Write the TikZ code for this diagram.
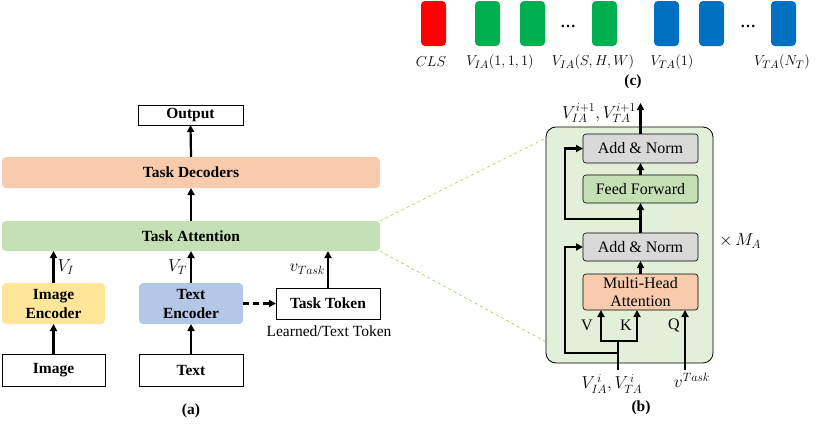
\documentclass[tikz,border=0pt]{standalone}
\usepackage{fontspec}
\setmainfont{Liberation Serif}
\usetikzlibrary{arrows.meta}
\definecolor{attgreen}{HTML}{C5E0B4}
\definecolor{decorange}{HTML}{F8CBAD}
\definecolor{encyellow}{HTML}{FFE699}
\definecolor{encblue}{HTML}{B4C7E7}
\definecolor{outergreen}{HTML}{E2F0D9}
\definecolor{normgray}{HTML}{D9D9D9}
\definecolor{linegreen}{HTML}{92D050}
\definecolor{tokred}{HTML}{FF0000}
\definecolor{tokgreen}{HTML}{00B050}
\definecolor{tokblue}{HTML}{0070C0}
\tikzset{
  base/.style={font=\fontsize{15.5}{19}\selectfont, inner sep=0pt, outer sep=0pt, align=center},
  whitebox/.style={base, draw=black, line width=0.8pt, fill=white, font=\fontsize{15.5}{19}\selectfont\bfseries},
  bar/.style={base, rounded corners=4pt, font=\fontsize{15.5}{19}\selectfont\bfseries},
  inbox/.style={base, draw=black, line width=0.6pt, rounded corners=3pt, minimum width=115pt, font=\fontsize{16}{18}\selectfont},
  tokbox/.style={rounded corners=4pt, minimum width=25pt, minimum height=45pt, inner sep=0pt},
  arr/.style={line width=2.2pt, -{Triangle[length=7pt,width=7pt]}},
  ln/.style={line width=2.2pt},
  gl/.style={linegreen, dashed, line width=0.6pt},
  lab/.style={base},
  mlab/.style={base, font=\fontsize{16.5}{19}\selectfont},
  caplab/.style={base, font=\fontsize{15.5}{19}\selectfont\bfseries}
}
\begin{document}
\begin{tikzpicture}[x=1pt,y=-1pt]
\useasboundingbox (0,0) rectangle (830,429);

% ---------- panel (a) ----------
\node[whitebox, minimum width=105pt, minimum height=20pt] (out) at (190.5,115) {Output};
\node[bar, fill=decorange, minimum width=378pt, minimum height=31pt] (dec) at (191,172.5) {Task Decoders};
\node[bar, fill=attgreen, minimum width=378pt, minimum height=30pt] (att) at (191,236) {Task Attention};
\node[bar, fill=encyellow, minimum width=103pt, minimum height=41pt] (ienc) at (53.5,303.5) {Image\\Encoder};
\node[bar, fill=encblue, minimum width=104pt, minimum height=41pt] (tenc) at (191,303.5) {Text\\Encoder};
\node[whitebox, minimum width=104pt, minimum height=31pt] (tok) at (328,303.5) {Task Token};
\node[whitebox, minimum width=103pt, minimum height=32pt] (img) at (53.5,370) {Image};
\node[whitebox, minimum width=104pt, minimum height=32pt] (txt) at (191,370) {Text};
\node[lab, anchor=north] (ltok) at (329,326) {Learned/Text Token};

\draw[arr] (img.north) -- (ienc.south);
\draw[arr] (txt.north) -- (tenc.south);
\draw[arr] (ienc.north) -- (ienc.north |- att.south) node[mlab, midway, right=4pt] {$V_I$};
\draw[arr] (tenc.north) -- (tenc.north |- att.south) node[mlab, midway, left=4pt] {$V_T$};
\draw[arr] (tok.north) -- (tok.north |- att.south) node[mlab, midway, left=3pt] {$v_{Task}$};
\draw[arr] (att.north) -- (dec.south);
\draw[arr] (dec.north) -- (out.south);
\draw[line width=2.2pt, dashed, dash pattern=on 6pt off 4pt, -{Triangle[length=7pt,width=7pt]}] (tenc.east) -- (tok.west);
\node[caplab] (capa) at (191,411) {(a)};

% ---------- panel (b) ----------
\node[draw=black, line width=0.8pt, fill=outergreen, rounded corners=10pt, minimum width=167pt, minimum height=236pt, inner sep=0pt] (outer) at (629.5,245) {};
\node[inbox, fill=normgray, minimum height=29pt] (an2) at (640.5,148.5) {Add \& Norm};
\node[inbox, fill=attgreen, minimum height=28pt] (ff) at (640.5,189) {Feed Forward};
\node[inbox, fill=normgray, minimum height=28pt] (an1) at (640.5,247) {Add \& Norm};
\node[inbox, fill=decorange, minimum height=36pt] (mha) at (640.5,292) {Multi-Head\\Attention};

\coordinate (top) at (640.5,103);
\coordinate (r1) at (640.5,219);
\coordinate (in) at (618,370);
\coordinate (br) at (618,341);
\coordinate (r2) at (618,353);
\coordinate (vk) at (601,341);
\coordinate (kk) at (637,341);
\coordinate (qin) at (685,370);

\draw[arr] (an2.north) -- (top);
\draw[arr] (ff.north) -- (an2.south);
\draw[arr] (an1.north) -- (ff.south);
\draw[arr] (mha.north) -- (an1.south);
\draw[arr] (r1) -- (565,219) |- (an2.west);
\draw[ln] (in) -- (br);
\draw[ln] ([xshift=-1.1pt]vk) -- ([xshift=1.1pt]kk);
\draw[arr] (vk) -- (vk |- mha.south);
\draw[arr] (kk) -- (kk |- mha.south);
\draw[arr] (r2) -- (565,353) |- (an1.west);
\draw[arr] (qin) -- (qin |- mha.south);

\node[lab, font=\fontsize{16}{18}\selectfont] (lv) at (587,325) {V};
\node[lab, font=\fontsize{16}{18}\selectfont] (lk) at (626,325) {K};
\node[lab, font=\fontsize{16}{18}\selectfont] (lq) at (674,325) {Q};
\node[mlab] (lin) at (612,384) {$V^{\,i}_{IA}, V^{\,i}_{TA}$};
\node[mlab] (ltask) at (692,380) {$v^{Task}$};
\node[mlab, anchor=east] (lout) at (636,113) {$V^{i+1}_{IA}, V^{i+1}_{TA}$};
\node[mlab] (lma) at (740,241) {$\times\, M_A$};
\node[caplab] (capb) at (641,408) {(b)};

\draw[gl] (att.north east) -- (546,138);
\draw[gl] (att.south east) -- (546,342);

% ---------- panel (c) ----------
\node[tokbox, fill=tokred] (c0) at (433.5,23.5) {};
\node[tokbox, fill=tokgreen] (g1) at (487.5,23.5) {};
\node[tokbox, fill=tokgreen] (g2) at (532.5,23.5) {};
\node[tokbox, fill=tokgreen] (g3) at (604.5,23.5) {};
\node[tokbox, fill=tokblue] (b1) at (666.5,23.5) {};
\node[tokbox, fill=tokblue] (b2) at (711.5,23.5) {};
\node[tokbox, fill=tokblue] (b3) at (783.5,23.5) {};
\node[lab] (d1) at (568,26) {\textbf{\dots}};
\node[lab] (d2) at (748,26) {\textbf{\dots}};
\node[lab] (l0) at (431,62) {$CLS$};
\node[lab] (l1) at (500,62) {$V_{IA}(1,1,1)$};
\node[lab] (l2) at (593,62) {$V_{IA}(S,H,W)$};
\node[lab] (l3) at (672,62) {$V_{TA}(1)$};
\node[lab] (l4) at (782,62) {$V_{TA}(N_T)$};
\node[caplab] (capc) at (633,82) {(c)};
\end{tikzpicture}
\end{document}
